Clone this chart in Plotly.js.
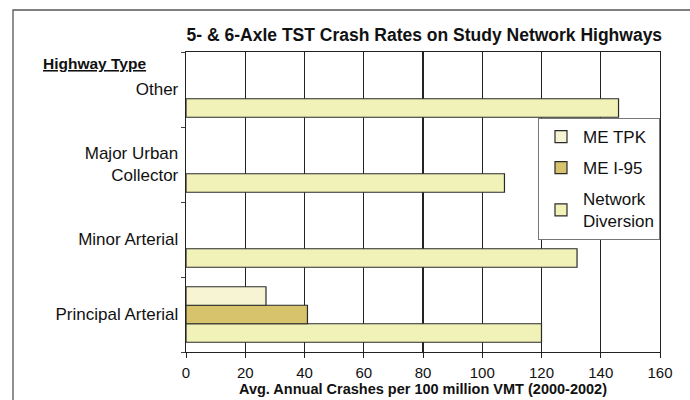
<!DOCTYPE html>
<html>
<head>
<meta charset="utf-8">
<script src="https://cdn.plot.ly/plotly-3.0.1.min.js"></script>
<style>html,body{margin:0;padding:0;background:#fff;}#chart{width:690px;height:400px;}</style>
</head>
<body>
<div id="chart"></div>
<script>
// Categories (bottom to top)
const categories = ["Principal Arterial", "Minor Arterial", "Major Urban<br>Collector", "Other"];
// Series values (Avg. Annual Crashes per 100 million VMT, 2000-2002)
const meTpk = [27, null, null, null];
const meI95 = [41, null, null, null];
const networkDiversion = [120, 132, 107.5, 146];
const xTicks = [0, 20, 40, 60, 80, 100, 120, 140, 160];

const font = "Liberation Sans, Arial, sans-serif";
const line = {color: "#2a2a2a", width: 1.2};

const traces = [
  {type: "bar", orientation: "h", name: "Network<br>Diversion", y: categories, x: networkDiversion,
   legendgroup: "c", legendrank: 3, marker: {color: "#f0f2b8", line: line}},
  {type: "bar", orientation: "h", name: "ME I-95", y: categories, x: meI95,
   legendgroup: "b", legendrank: 2, marker: {color: "#d6c36c", line: line}},
  {type: "bar", orientation: "h", name: "ME TPK", y: categories, x: meTpk,
   legendgroup: "a", legendrank: 1, marker: {color: "#f6f4d2", line: line}}
];

const layout = {
  width: 690, height: 400,
  margin: {l: 186, r: 30, t: 52, b: 48},
  paper_bgcolor: "#fff", plot_bgcolor: "#fff",
  font: {family: font, color: "#111", size: 15},
  barmode: "group", bargap: 0.26, bargroupgap: 0,
  title: {text: "<b>5- & 6-Axle TST Crash Rates on Study Network Highways</b>",
          font: {family: font, size: 17.5, color: "#111"},
          x: 0.615, xanchor: "center", y: 0.912, yanchor: "middle"},
  xaxis: {range: [0, 160], tickvals: xTicks, ticktext: xTicks.map(String), automargin: false,
          showgrid: true, gridcolor: "#222", gridwidth: 1.2,
          showline: true, linecolor: "#222", linewidth: 1.3, mirror: true,
          ticks: "outside", ticklen: 5, tickcolor: "#222", ticklabelstandoff: 2,
          tickfont: {size: 15, family: font}, zeroline: false,
          title: {text: "<b>Avg. Annual Crashes per 100 million VMT (2000-2002)</b>",
                  font: {size: 14.5, family: font}, standoff: 0}},
  yaxis: {type: "category", categoryorder: "array", categoryarray: categories, automargin: false,
          tickson: "boundaries", ticks: "outside", ticklen: 4, tickcolor: "#444",
          showgrid: false, showline: true, linecolor: "#222", linewidth: 1.3, mirror: true,
          tickfont: {size: 17, family: font}, ticklabelstandoff: 3},
  legend: {x: 0.7426, y: 0.78, xanchor: "left", yanchor: "top",
           bgcolor: "#fff", bordercolor: "#777", borderwidth: 1,
           traceorder: "grouped", font: {size: 17, family: font},
           itemwidth: 34, tracegroupgap: 6},
  annotations: [
    {text: "<b><u>Highway Type</u></b>", xref: "paper", yref: "paper",
     x: -0.194, y: 0.963, xanchor: "center", yanchor: "middle", showarrow: false,
     font: {size: 15.5, family: font, color: "#111"}}
  ],
  shapes: [
    {type: "rect", xref: "paper", yref: "paper",
     x0: -0.365, x1: 1.2, y0: -0.3, y1: 1.14,
     line: {color: "#555", width: 1.3}, fillcolor: "rgba(0,0,0,0)", layer: "below"}
  ]
};

Plotly.newPlot("chart", traces, layout, {displayModeBar: false, staticPlot: true});
</script>
</body>
</html>
